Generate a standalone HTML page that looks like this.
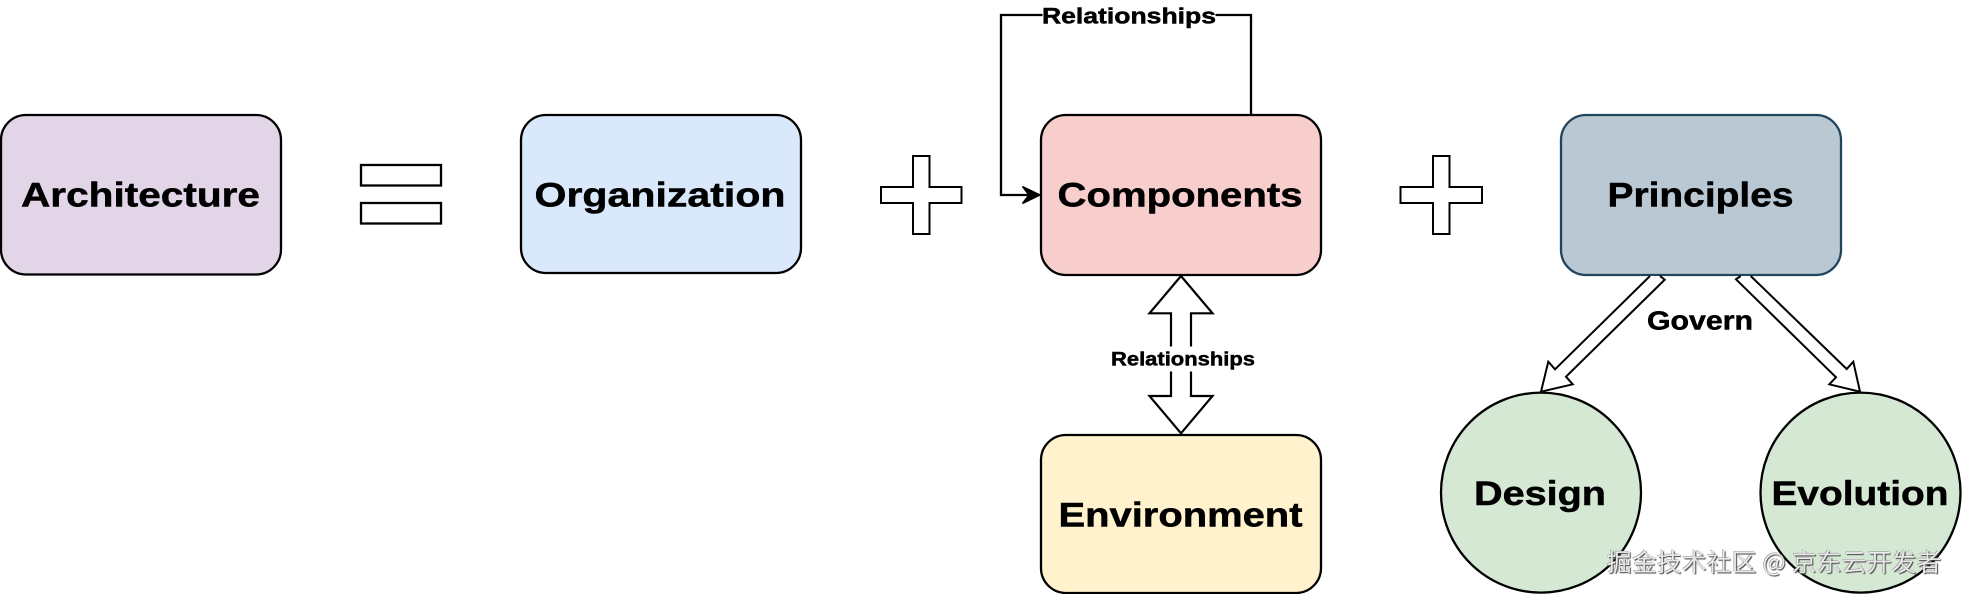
<!DOCTYPE html>
<html>
<head>
<meta charset="utf-8">
<style>
html,body{margin:0;padding:0;background:#fff;width:1962px;height:594px;overflow:hidden}
svg{position:absolute;left:0;top:0;display:block}
text{font-family:"Liberation Sans",sans-serif;font-weight:700;fill:#000;stroke:#000;stroke-width:.5px}
.wm{position:absolute;left:1607px;top:546px;width:350px;height:30px;white-space:nowrap;letter-spacing:.35px;font:24.6px/30px "Noto Sans CJK SC","WenQuanYi Zen Hei",sans-serif;color:rgba(255,255,255,.85);text-shadow:1px 1px 1px #444,-.5px -.5px .5px #888}
</style>
</head>
<body>
<svg width="1962" height="594" viewBox="0 0 1962 594" xmlns="http://www.w3.org/2000/svg">
<g stroke="#000" stroke-width="2.3" fill="none">
<rect x="1" y="115" width="280" height="159.5" rx="25" fill="#e1d5e7"/>
<rect x="521" y="115" width="280" height="158" rx="25" fill="#dae8fc"/>
<rect x="1041" y="115" width="280" height="160" rx="25" fill="#f8cecc"/>
<rect x="1041" y="435" width="280" height="158" rx="25" fill="#fff2cc"/>
<rect x="1561" y="115" width="280" height="160" rx="25" fill="#bac8d3" stroke="#23445d"/>
<circle cx="1541" cy="492.6" r="100" fill="#d5e8d4"/>
<circle cx="1860.5" cy="492.6" r="100" fill="#d5e8d4"/>
<rect x="361" y="165" width="80" height="20.5" fill="#fff"/>
<rect x="361" y="203" width="80" height="20.5" fill="#fff"/>
<path fill="#fff" stroke-width="2" d="M913 156H929.5V187H961.5V203H929.5V234H913V203H881V187H913Z"/>
<path fill="#fff" stroke-width="2" d="M1433 156H1449.5V187H1482V203H1449.5V234H1433V203H1400.5V187H1433Z"/>
<path d="M1251 115V15H1001V195H1032"/>
<path d="M1181 276L1212.5 313.3H1191V396H1212.5L1181 433.3L1149.5 396H1171V313.3H1149.5Z" fill="#fff" stroke-width="2.2"/>
<path d="M1650 276L1555 369.3L1548.3 361.7L1541 391.7L1572.7 384.3L1566 376.7L1664.7 279.7L1660 276" fill="#fff" stroke-width="2"/>
<path d="M1740.7 276L1736 279.3L1836 377.3L1829.3 384.3L1860 391.7L1853.3 361.7L1846.7 369L1750.7 276" fill="#fff" stroke-width="2"/>
</g>
<path d="M1040 195L1022.5 203.5L1029 195L1022.5 186.5Z" fill="#000" stroke="#000" stroke-width="1.5"/>
<rect x="1042.5" y="4" width="173" height="24" fill="#fff"/>
<rect x="1110" y="346.5" width="146" height="25" fill="#fff"/>
<g font-size="34">
<text x="21" y="206.7" textLength="239" lengthAdjust="spacingAndGlyphs">Architecture</text>
<text x="534.5" y="206.7" textLength="251" lengthAdjust="spacingAndGlyphs">Organization</text>
<text x="1057.5" y="206.7" textLength="245" lengthAdjust="spacingAndGlyphs">Components</text>
<text x="1058.5" y="526.7" textLength="244" lengthAdjust="spacingAndGlyphs">Environment</text>
<text x="1607.5" y="206.7" textLength="186" lengthAdjust="spacingAndGlyphs">Principles</text>
<text x="1474" y="505" textLength="132" lengthAdjust="spacingAndGlyphs">Design</text>
<text x="1771.5" y="505" textLength="177" lengthAdjust="spacingAndGlyphs">Evolution</text>
</g>
<text x="1042" y="23.5" font-size="22.5" textLength="174" lengthAdjust="spacingAndGlyphs">Relationships</text>
<text x="1111" y="365.7" font-size="19.5" textLength="144" lengthAdjust="spacingAndGlyphs">Relationships</text>
<text x="1647" y="329.3" font-size="25.5" textLength="106" lengthAdjust="spacingAndGlyphs">Govern</text>
</svg>
<div class="wm">掘金技术社区 @ 京东云开发者</div>
</body>
</html>
